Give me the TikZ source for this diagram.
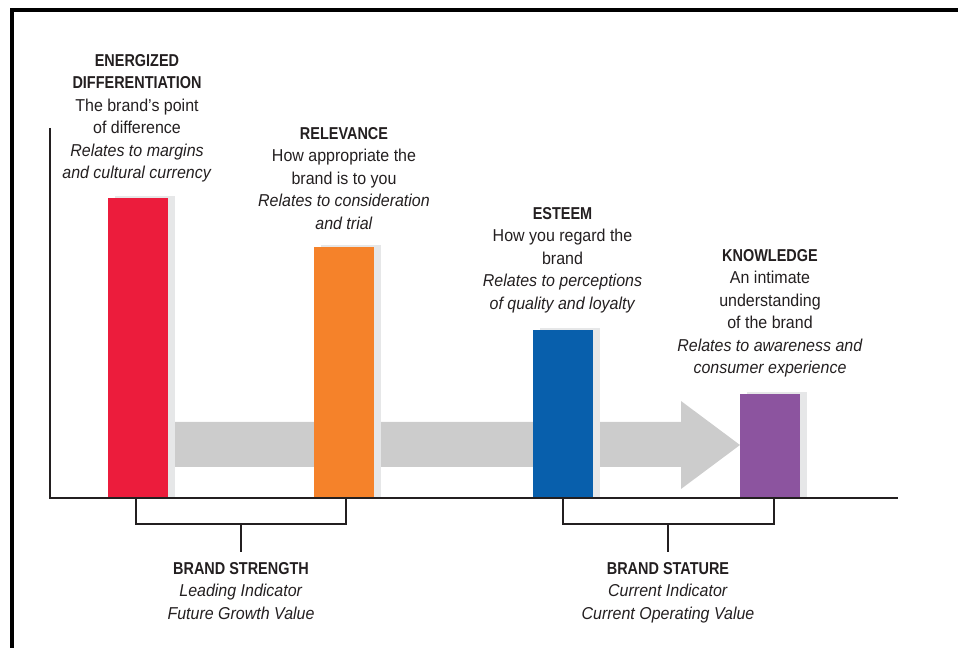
\documentclass[tikz,border=0pt]{standalone}
\usepackage{fontspec}
\setmainfont{Liberation Sans}[
  UprightFeatures={FakeStretch=0.93},
  ItalicFeatures={FakeStretch=0.93},
  BoldFeatures={FakeStretch=0.84}]
\usetikzlibrary{calc,backgrounds}

\definecolor{ink}{HTML}{231F20}
\definecolor{barred}{HTML}{EC1C3C}
\definecolor{barorange}{HTML}{F5822A}
\definecolor{barblue}{HTML}{085FAC}
\definecolor{barpurple}{HTML}{8C549F}
\definecolor{barshade}{HTML}{E6E7E8}
\definecolor{flowgray}{HTML}{CCCCCC}

\begin{document}
\begin{tikzpicture}[x=0.75pt,y=-0.75pt,
  bar/.style={inner sep=0pt,outer sep=0pt,minimum width=45pt,anchor=south},
  caption/.style={align=center,inner sep=0pt,text=ink,
    font=\fontsize{12.9}{16.9}\selectfont},
  rule/.style={draw=ink,line width=1.5pt},
  frame/.style={draw=black,line width=2.4pt}]

\useasboundingbox (0,0) rectangle (958,648);

% outer frame (left and top edges)
\draw[frame] (12,648) -- (12,10) -- (958,10);

% the four bars standing on the baseline
\node[bar,fill=barred,minimum height=225pt]    (red)    at (138,498) {};
\node[bar,fill=barorange,minimum height=188.25pt] (orange) at (344,498) {};
\node[bar,fill=barblue,minimum height=126pt]   (blue)   at (562.5,498) {};
\node[bar,fill=barpurple,minimum height=78pt]  (purple) at (770,498) {};

% progression arrow and bar shadows behind the bars
\begin{scope}[on background layer]
  \fill[flowgray] (170,422) -- (681,422) -- (681,401) -- (740,445)
    -- (681,489) -- (681,467) -- (170,467) -- cycle;
  \foreach \b in {red,orange,blue,purple}{
    \fill[barshade] ($(\b.south west)+(7,0)$) rectangle ($(\b.north east)+(7,-2)$);
  }
\end{scope}

% axes
\coordinate (ytop) at (50,128);
\coordinate (origin) at (50,498);
\coordinate (xend) at (898,498);
\draw[rule] (ytop) -- (origin) -- (xend);

% captions above the bars
\node[caption,anchor=north] (capred) at (137,54)
  {\textbf{ENERGIZED}\\\textbf{DIFFERENTIATION}\\The brand’s point\\of difference\\
   \textit{Relates to margins}\\\textit{and cultural currency}};
\node[caption,anchor=north] (caporange) at (344,127)
  {\textbf{RELEVANCE}\\How appropriate the\\brand is to you\\
   \textit{Relates to consideration}\\\textit{and trial}};
\node[caption,anchor=north] (capblue) at (562.5,207)
  {\textbf{ESTEEM}\\How you regard the\\brand\\
   \textit{Relates to perceptions}\\\textit{of quality and loyalty}};
\node[caption,anchor=north] (cappurple) at (770,249)
  {\textbf{KNOWLEDGE}\\An intimate\\understanding\\of the brand\\
   \textit{Relates to awareness and}\\\textit{consumer experience}};

% group labels below the axis
\node[caption,anchor=north] (strength) at (241,562)
  {\textbf{BRAND STRENGTH}\\\textit{Leading Indicator}\\\textit{Future Growth Value}};
\node[caption,anchor=north] (stature) at (668,562)
  {\textbf{BRAND STATURE}\\\textit{Current Indicator}\\\textit{Current Operating Value}};

% brackets grouping the bars
\draw[rule] ($(red.south)+(-2,0)$) -- ++(0,26) coordinate (sl)
  -| ($(orange.south)+(2,0)$);
\coordinate (smid) at ($(sl)!0.5!(sl -| orange.south)+(1,0)$);
\draw[rule,shorten >=7.5pt] (smid) -- (smid |- strength.north);

\draw[rule] (blue.south) -- ++(0,26) coordinate (tl)
  -| ($(purple.south)+(4,0)$);
\coordinate (tmid) at ($(tl)!0.5!(tl -| purple.south)+(2,0)$);
\draw[rule,shorten >=7.5pt] (tmid) -- (tmid |- stature.north);

\end{tikzpicture}
\end{document}
